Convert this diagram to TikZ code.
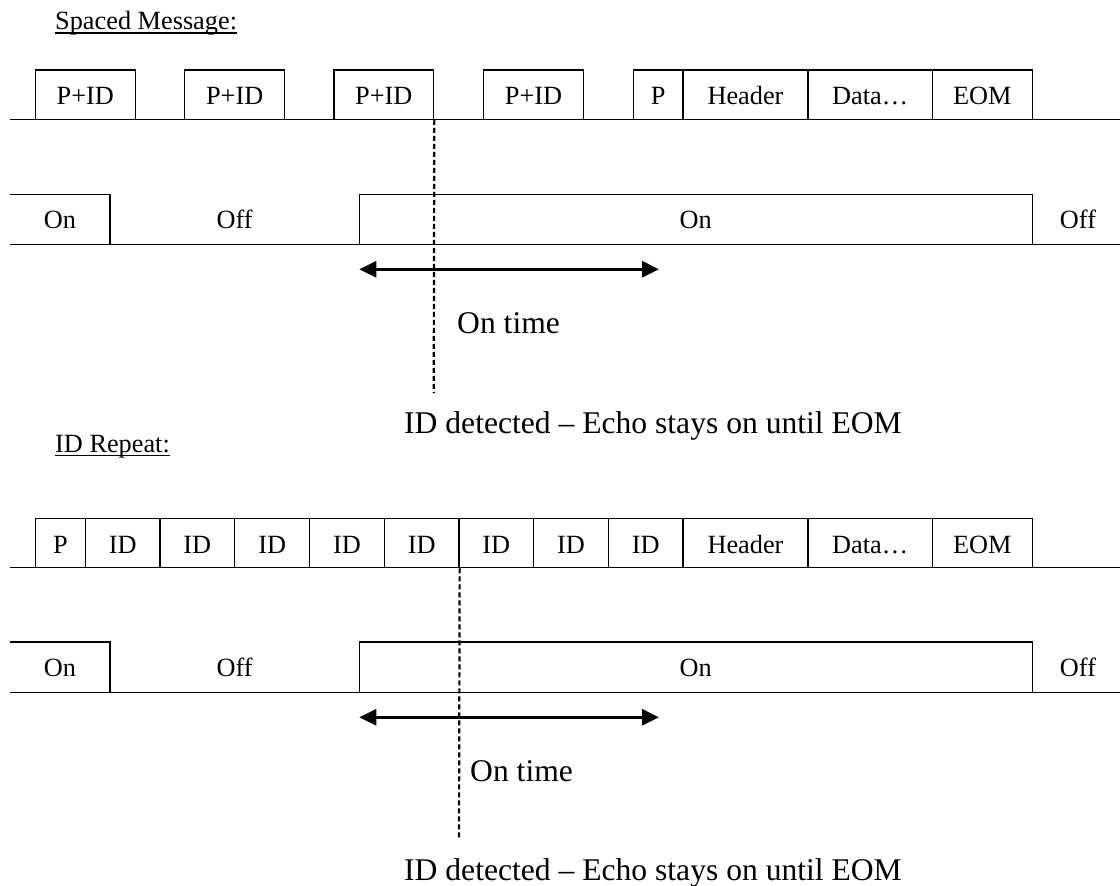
\documentclass[tikz,border=0pt]{standalone}
\usepackage{fontspec}
\setmainfont{Liberation Serif}
\usetikzlibrary{arrows.meta}

% \segbox{name}{left}{right}{top}{bottom}{text}: one framed field of a frame
\newcommand\segbox[6]{%
  \pgfmathsetmacro\sbx{(#2+#3)/2}\pgfmathsetmacro\sbw{#3-#2}%
  \pgfmathsetmacro\sby{(#4+#5)/2}\pgfmathsetmacro\sbh{#5-#4}%
  \node[fieldbox, minimum width=\sbw pt, minimum height=\sbh pt] (#1) at (\sbx,\sby) {#6};}

\begin{document}
\begin{tikzpicture}[x=1pt, y=-1pt,
  wave/.style={line width=1.3pt},
  fieldbox/.style={draw, line width=1.3pt, inner sep=0pt, text height=20.6pt, text depth=0pt,
                   font=\fontsize{26.3}{31}\selectfont},
  lbl/.style={inner sep=0pt, font=\fontsize{26.3}{31}\selectfont},
  biglbl/.style={inner sep=0pt, font=\fontsize{31.6}{38}\selectfont},
  uline/.style={line width=1.2pt},
  ontimearrow/.style={line width=3pt,
     {Triangle[length=17pt,width=16pt]}-{Triangle[length=17pt,width=16pt]}},
  idmark/.style={line width=2.2pt, dash pattern=on 5pt off 3pt},
]
\useasboundingbox (0,0) rectangle (1120,886);

% ---------------- Spaced message ----------------
\node[lbl, anchor=base west] (t1) at (55,29) {Spaced Message:};
\draw[uline] ([yshift=-4pt]t1.base west) -- ([yshift=-4pt]t1.base east);

\coordinate (s1) at (10,119.3);
\coordinate (e1) at (1120,119.3);
\draw[wave] (s1) -- (e1);
\segbox{b1}{35.3}{135.3}{70}{119.3}{P+ID}
\segbox{b2}{184.7}{284.7}{70}{119.3}{P+ID}
\segbox{b3}{334}{433.7}{70}{119.3}{P+ID}
\segbox{b4}{483.7}{583.3}{70}{119.3}{P+ID}
\segbox{b5}{633.3}{683}{70}{119.3}{P}
\segbox{b6}{683}{808}{70}{119.3}{Header}
\segbox{b7}{808}{932.3}{70}{119.3}{Data…}
\segbox{b8}{932.3}{1032.3}{70}{119.3}{EOM}

% echo on/off
\draw[wave] (10,194.3) -- (110,194.3) -- (110,244.3);
\draw[wave] (10,244.3) -- (1120,244.3);
\draw[wave] (359.3,244.3) -- (359.3,194.3) -- (1032.3,194.3) -- (1032.3,244.3);
\node[lbl, anchor=base] (on1a) at (60,228.3) {On};
\node[lbl, anchor=base] (off1a) at (234.7,228.3) {Off};
\node[lbl, anchor=base] (on1b) at (695.8,228.3) {On};
\node[lbl, anchor=base] (off1b) at (1078,228.3) {Off};

\coordinate (a1l) at (359.3,269.3);
\coordinate (a1r) at (659,269.3);
\draw[ontimearrow] (a1l) -- (a1r);

\coordinate (d1) at (433.7,393);
\draw[idmark] (b3.south east) -- (d1);
\node[biglbl, anchor=base west] (ot1) at (457,333) {On time};
\node[biglbl, anchor=base west] (det1) at (404,433) {ID detected – Echo stays on until EOM};

% ---------------- ID repeat ----------------
\node[lbl, anchor=base west] (t2) at (55,452) {ID Repeat:};
\draw[uline] ([yshift=-3.5pt]t2.base west) -- ([yshift=-3.5pt]t2.base east);

\coordinate (s2) at (10,567.7);
\coordinate (e2) at (1120,567.7);
\draw[wave] (s2) -- (e2);
\segbox{c1}{35.3}{85.7}{518.3}{567.7}{P}
\segbox{c2}{85.7}{160}{518.3}{567.7}{ID}
\segbox{c3}{160}{234.7}{518.3}{567.7}{ID}
\segbox{c4}{234.7}{309.7}{518.3}{567.7}{ID}
\segbox{c5}{309.7}{384.3}{518.3}{567.7}{ID}
\segbox{c6}{384.3}{459}{518.3}{567.7}{ID}
\segbox{c7}{459}{533.7}{518.3}{567.7}{ID}
\segbox{c8}{533.7}{608.3}{518.3}{567.7}{ID}
\segbox{c9}{608.3}{683}{518.3}{567.7}{ID}
\segbox{c10}{683}{808}{518.3}{567.7}{Header}
\segbox{c11}{808}{932.3}{518.3}{567.7}{Data…}
\segbox{c12}{932.3}{1032.3}{518.3}{567.7}{EOM}

% echo on/off
\draw[wave] (10,642) -- (110,642) -- (110,692.3);
\draw[wave] (10,692.3) -- (1120,692.3);
\draw[wave] (359.3,692.3) -- (359.3,642) -- (1032.3,642) -- (1032.3,692.3);
\node[lbl, anchor=base] (on2a) at (60,676.3) {On};
\node[lbl, anchor=base] (off2a) at (234.7,676.3) {Off};
\node[lbl, anchor=base] (on2b) at (695.8,676.3) {On};
\node[lbl, anchor=base] (off2b) at (1078,676.3) {Off};

\coordinate (a2l) at (359.3,717.3);
\coordinate (a2r) at (659,717.3);
\draw[ontimearrow] (a2l) -- (a2r);

\coordinate (d2) at (459,840);
\draw[idmark] (c6.south east) -- (d2);
\node[biglbl, anchor=base west] (ot2) at (470,781) {On time};
\node[biglbl, anchor=base west] (det2) at (404,880) {ID detected – Echo stays on until EOM};
\end{tikzpicture}
\end{document}
